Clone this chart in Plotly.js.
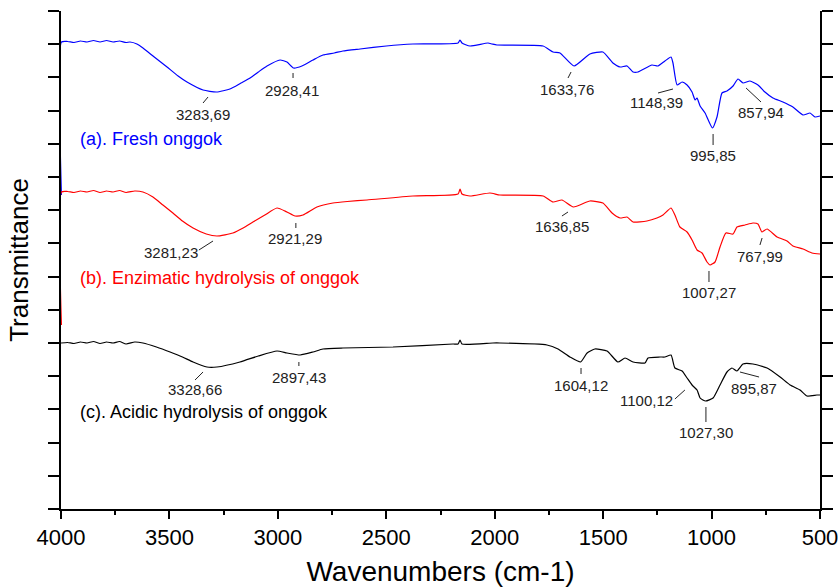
<!DOCTYPE html>
<html>
<head>
<meta charset="utf-8">
<script src="https://cdn.plot.ly/plotly-3.0.1.min.js"></script>
<style>html,body{margin:0;padding:0;background:#fff;}#chart{width:838px;height:588px;}</style>
</head>
<body>
<div id="chart"></div>
<script>
// Wavenumber (cm-1) and transmittance (arbitrary, offset units)
var wnFresh = [3998,3998,3970,3940,3910,3880,3850,3820,3790,3760,3730,3700,3682,3650,3622,3570,3511,3460,3419,3345,3283,3221,3170,3128,3090,3050,2990,2958,2928,2889,2838,2792,2740,2700,2621,2500,2377,2169,2160,2151,2114,2031,2012,1990,1777,1731,1699,1634,1561,1501,1455,1422,1390,1362,1339,1275,1247,1215,1187,1178,1159,1136,1113,1090,1076,1067,1053,1030,996,975,952,929,901,878,855,823,786,754,717,671,625,578,546,523,500];
var tFresh  = [314,467,467.5,466.5,468,467,468.5,467,468.5,467,468,466.5,467,465,461,452,442,433,427,419,417,420,426,431,437,443,449,447,441,443,449,454,456,458,460,463,465,466,469,466,463,466,465,464,463,457,456,443,455,457,446,442,443,437,437,444,443,448,452,446,424,427,424,417,409,411,403,396,381,392,416,418,423,430,426,428,424,417,411,407,402,394,396,392,393];

var wnEnz = [3998,3998,3970,3940,3910,3880,3850,3820,3790,3760,3730,3700,3660,3622,3576,3530,3484,3440,3391,3330,3281,3207,3160,3115,3060,3004,2958,2921,2884,2820,2746,2680,2589,2377,2169,2160,2151,2114,2022,1976,1777,1731,1690,1637,1561,1501,1459,1422,1390,1362,1298,1252,1224,1187,1169,1146,1113,1090,1067,1044,1021,1007,984,961,934,901,883,846,809,786,768,744,698,652,625,578,537,500];
var tEnz  = [184,317,317.5,316.5,318,317,318.5,316.5,318,317,318.5,316.5,318,317,312,304,296,288,281,275,273,276,281,287,294,301,297,293,294,302,306,307.5,309,313,315,320,315,313,316,314,313,307,309,302,308,306,296,291,292,287,288,291,294,301,294,282,277,269,259,256,247,244,247,262,276,275,282,284,286,285,277,280,272,268,263,260,256,255];

var wnAcid = [4000,3970,3940,3910,3880,3850,3820,3790,3760,3730,3700,3660,3622,3560,3497,3440,3391,3327,3281,3175,3090,3004,2958,2897,2838,2792,2700,2469,2192,2169,2160,2151,2008,1976,1759,1708,1653,1604,1574,1538,1482,1432,1399,1362,1307,1293,1238,1215,1187,1169,1136,1113,1090,1067,1053,1040,1027,993,961,929,906,883,855,809,744,684,638,592,560,514,500];
var tAcid  = [166,166.5,165.5,167,166,167.5,165.5,167,166,167.5,165,167,166,162,157,152,147,142,142,147,153,158,156,154,157,160,161,162,165,165,169,165,166,166,164,160,152,147,156,160,158,147,151,147,146,151,152,152,154,141,138,131,124,119,111,109,108,111,124,137,141,138,145,145,141,132,124,119,113,114,114];

var seriesNames  = ['(a). Fresh onggok', '(b). Enzimatic hydrolysis of onggok', '(c). Acidic hydrolysis of onggok'];
var seriesColors = ['#0000ff', '#ff0000', '#000000'];
var labelX = [3922, 3922, 3922];
var labelY = [370, 231, 97];

// Peak annotations: text position (x, y), text, leader line (x0,y0)-(x1,y1)
var peakText = ['3283,69','2928,41','1633,76','1148,39','995,85','857,94',
                '3281,23','2921,29','1636,85','1007,27','767,99',
                '3328,66','2897,43','1604,12','1100,12','1027,30','895,87'];
var peakTx = [3345,2935,1667,1252,993,772, 3493,2921,1690,1012,777, 3382,2903,1602,1298,1026,804];
var peakTy = [395,419,420,407,354,397, 257,271,283,217,253, 120,132,124,109,77,121];
var leadX0 = [3345,2930,1662,1247,993,841, 3364,2917,1690,1012,777, 3382,2903,1602,1169,1026,869];
var leadY0 = [406,436,431,416,375,421, 259,286,293,238,264, 129,147,141,110,102,137];
var leadX1 = [3322,2930,1648,1178,993,772, 3299,2917,1662,1012,767, 3345,2903,1602,1123,1026,781];
var leadY1 = [412,431,437,420,364,407, 268,281,297,227,271, 137,143,135,119,87,132];

var xTicks = [4000,3500,3000,2500,2000,1500,1000,500];

var font = 'Arial, "Liberation Sans", sans-serif';
function lineTrace(x, y, c) {
  return {x: x, y: y, type: 'scatter', mode: 'lines', line: {color: c, width: 1.2, shape: 'spline', smoothing: 0.5}, hoverinfo: 'skip', cliponaxis: false};
}
var traces = [
  lineTrace(wnFresh, tFresh, seriesColors[0]),
  lineTrace(wnEnz, tEnz, seriesColors[1]),
  lineTrace(wnAcid, tAcid, seriesColors[2])
];

var annotations = [];
for (var i = 0; i < seriesNames.length; i++) {
  annotations.push({x: labelX[i], y: labelY[i], xref: 'x', yref: 'y', text: seriesNames[i], showarrow: false,
    xanchor: 'left', yanchor: 'middle', font: {family: font, size: 18, color: seriesColors[i]}});
}
var shapes = [];
for (var j = 0; j < peakText.length; j++) {
  annotations.push({x: peakTx[j], y: peakTy[j], xref: 'x', yref: 'y', text: peakText[j], showarrow: false,
    xanchor: 'center', yanchor: 'middle', font: {family: font, size: 15, color: '#222'}});
  shapes.push({type: 'line', xref: 'x', yref: 'y', x0: leadX0[j], y0: leadY0[j], x1: leadX1[j], y1: leadY1[j],
    line: {color: '#222', width: 1}});
}

var layout = {
  width: 838, height: 588,
  margin: {l: 61, r: 18, t: 11, b: 79},
  paper_bgcolor: '#fff', plot_bgcolor: '#fff',
  showlegend: false,
  font: {family: font, color: '#000'},
  xaxis: {
    range: [4000, 500], tickvals: xTicks, ticktext: xTicks.map(String),
    ticks: 'outside', ticklen: 8, tickwidth: 2, tickcolor: '#000', ticklabeloverflow: 'allow',
    minor: {dtick: 250, tick0: 0, ticks: 'outside', ticklen: 4, tickwidth: 2, tickcolor: '#000'},
    showline: true, linewidth: 2, linecolor: '#000', showgrid: false, zeroline: false,
    tickfont: {family: font, size: 22, color: '#000'},
    title: {text: 'Wavenumbers (cm-1)', font: {family: font, size: 28, color: '#000'}, standoff: 12}
  },
  xaxis2: {
    overlaying: 'x', side: 'top', anchor: 'y', range: [4000, 500], tickvals: xTicks,
    ticks: 'inside', ticklen: 9, tickwidth: 2, tickcolor: '#000',
    minor: {dtick: 250, tick0: 0, ticks: 'inside', ticklen: 4, tickwidth: 2, tickcolor: '#000'},
    showticklabels: false, showline: true, linewidth: 2, linecolor: '#000', showgrid: false, zeroline: false
  },
  yaxis: {
    range: [0, 498], dtick: 33.2, tick0: 0, showticklabels: false,
    ticks: 'outside', ticklen: 11, tickwidth: 2, tickcolor: '#000', mirror: 'ticks',
    showline: true, linewidth: 2, linecolor: '#000', showgrid: false, zeroline: false,
    title: {text: 'Transmittance', font: {family: font, size: 26, color: '#000'}, standoff: 12}
  },
  annotations: annotations,
  shapes: shapes
};

Plotly.newPlot('chart', traces, layout, {displayModeBar: false, staticPlot: true});
</script>
</body>
</html>
